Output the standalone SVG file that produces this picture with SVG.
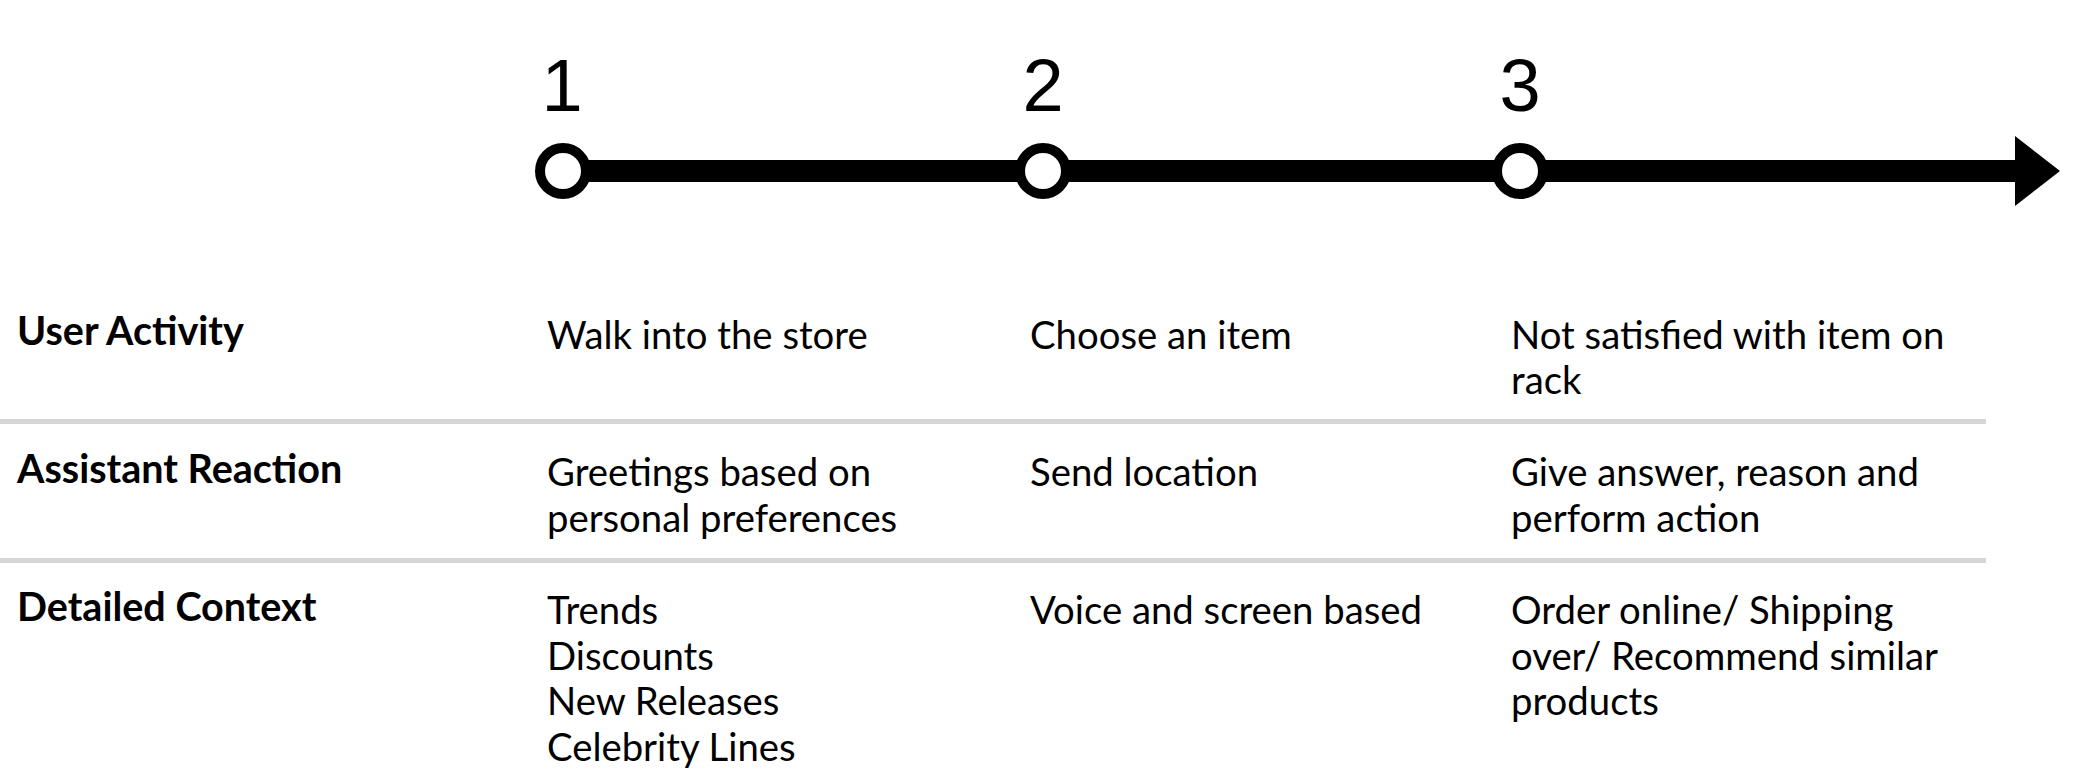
<svg xmlns="http://www.w3.org/2000/svg" width="2076" height="780" viewBox="0 0 2076 780">
<style>
.num{font-family:"Liberation Sans",Arial,sans-serif;font-size:74px;fill:#000;text-anchor:middle}
.lbl{font-family:Lato,"Noto Sans",sans-serif;font-weight:700;font-size:39.5px;fill:#000}
.txt{font-family:Lato,"Noto Sans",sans-serif;font-size:38.3px;fill:#000}
.sep{stroke:#d6d6d6;stroke-width:5}
.dot{fill:#fff;stroke:#000;stroke-width:10}
</style>
<rect width="2076" height="780" fill="#fff"/>
<g id="connectors">
<line x1="563" y1="171" x2="2018" y2="171" stroke="#000" stroke-width="22"/>
<polygon points="2015,136 2060,171 2015,206" fill="#000"/>
</g>
<g id="step1"><circle class="dot" cx="563" cy="171" r="23"/><text class="num" x="562" y="111">1</text></g>
<g id="step2"><circle class="dot" cx="1043" cy="171" r="23"/><text class="num" x="1043" y="111">2</text></g>
<g id="step3"><circle class="dot" cx="1520" cy="171" r="23"/><text class="num" x="1520" y="111">3</text></g>
<g id="separators">
<line class="sep" x1="0" y1="421.5" x2="1986" y2="421.5"/>
<line class="sep" x1="0" y1="560.5" x2="1986" y2="560.5"/>
</g>
<g id="row-labels">
<text class="lbl" x="17" y="345">User Activity</text>
<text class="lbl" x="17" y="483">Assistant Reaction</text>
<text class="lbl" x="17" y="621">Detailed Context</text>
</g>
<g id="col1">
<text class="txt" x="547" y="349">Walk into the store</text>
<text class="txt" x="547" y="486">Greetings based on</text>
<text class="txt" x="547" y="532">personal preferences</text>
<text class="txt" x="547" y="624">Trends</text>
<text class="txt" x="547" y="670">Discounts</text>
<text class="txt" x="547" y="715">New Releases</text>
<text class="txt" x="547" y="761">Celebrity Lines</text>
</g>
<g id="col2">
<text class="txt" x="1030" y="349">Choose an item</text>
<text class="txt" x="1030" y="486">Send location</text>
<text class="txt" x="1030" y="624">Voice and screen based</text>
</g>
<g id="col3">
<text class="txt" x="1511" y="349">Not satisfied with item on</text>
<text class="txt" x="1511" y="394">rack</text>
<text class="txt" x="1511" y="486">Give answer, reason and</text>
<text class="txt" x="1511" y="532">perform action</text>
<text class="txt" x="1511" y="624">Order online/ Shipping</text>
<text class="txt" x="1511" y="670">over/ Recommend similar</text>
<text class="txt" x="1511" y="715">products</text>
</g>
</svg>
